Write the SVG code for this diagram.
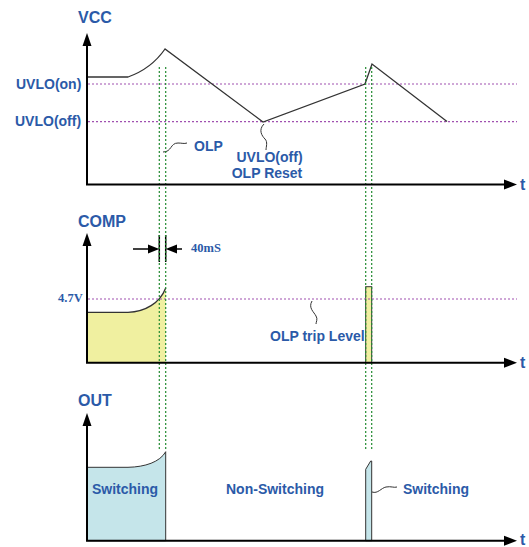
<svg xmlns="http://www.w3.org/2000/svg" width="529" height="547" viewBox="0 0 529 547">
<style>
.lbl{font-family:"Liberation Sans",Arial,sans-serif;font-weight:bold;fill:#2b5aa8}
.big{font-size:16px}
.sm{font-size:14px}
.ser{font-family:"Liberation Serif","Times New Roman",serif;font-weight:bold;fill:#2b5aa8;font-size:12.5px}
.axis{stroke:#000;stroke-width:2;fill:none}
.wave{stroke:#333;stroke-width:1.3;fill:none}
.lvl{stroke:#a050b0;stroke-width:1.2;stroke-dasharray:2 2;fill:none}
.grn{stroke:#228a30;stroke-width:1.2;stroke-dasharray:2 2;fill:none}
.sq{stroke:#333;stroke-width:1;fill:none}
</style>
<rect width="529" height="547" fill="#fff"/>
<g id="vcc">
<text class="lbl big" x="78" y="23">VCC</text>
<text class="lbl sm" x="16" y="89">UVLO(on)</text>
<text class="lbl sm" x="15" y="126">UVLO(off)</text>
<line class="lvl" x1="88" y1="84" x2="517" y2="84"/>
<line class="lvl" x1="88" y1="121.7" x2="517" y2="121.7"/>
<path class="wave" d="M87,77 L128,77 C142,72 156,62 165,49 L263,122 L365,84 L372,64 L447,121.5"/>
<path class="sq" d="M163,152 C172,152 170,143 178,143 C182,143 184,144 187,143"/>
<text class="lbl sm" x="194" y="151">OLP</text>
<path class="sq" d="M264,124 C258,130 262,136 265,139 C268,142 266,147 266,150"/>
<text class="lbl sm" x="269.5" y="162" text-anchor="middle">UVLO(off)</text>
<text class="lbl sm" x="267" y="178" text-anchor="middle">OLP Reset</text>
</g>
<g id="comp">
<text class="lbl big" x="78" y="227">COMP</text>
<text class="ser" x="58" y="302">4.7V</text>
<path d="M87,362.7 L87,312.3 L128,312.3 C145,312 160,303 165.7,288 L165.7,362.7 Z" fill="#f0f0a0"/>
<path class="wave" d="M87,312.3 L128,312.3 C145,312 160,303 165.7,288"/>
<rect x="365.7" y="286.7" width="6" height="76" fill="#f0f0a0" stroke="#333" stroke-width="1"/>
<line class="lvl" x1="88" y1="299" x2="517" y2="299"/>
<path class="sq" d="M312,301 C308,308 314,312 316,316 C318,319 316,322 316,324"/>
<text class="lbl sm" x="270" y="341">OLP trip Level</text>
<line x1="159.3" y1="235" x2="159.3" y2="262" stroke="#000" stroke-width="1.5"/>
<line x1="165.7" y1="235" x2="165.7" y2="262" stroke="#000" stroke-width="1.5"/>
<text class="ser" x="191" y="252">40mS</text>
</g>
<g id="out">
<text class="lbl big" x="78" y="406">OUT</text>
<path d="M87,540.7 L87,467.3 L128,467.3 C145,467 160,462 165.7,451.7 L165.7,540.7 Z" fill="#c5e5ea" stroke="#333" stroke-width="1"/>
<polygon points="365.7,469.3 370.7,461 371.7,461 371.7,540.7 365.7,540.7" fill="#c5e5ea" stroke="#333" stroke-width="1"/>
<text class="lbl sm" x="92" y="494">Switching</text>
<text class="lbl sm" x="226" y="494">Non-Switching</text>
<path class="sq" d="M372,492 C378,494 381,488 386,487 C391,486 394,488 397,487"/>
<text class="lbl sm" x="403" y="494">Switching</text>
</g>
<g id="connectors">
<line class="grn" x1="159.3" y1="67" x2="159.3" y2="450"/>
<line class="grn" x1="165.7" y1="67" x2="165.7" y2="450"/>
<line class="grn" x1="365.7" y1="67" x2="365.7" y2="450"/>
<line class="grn" x1="371.7" y1="67" x2="371.7" y2="450"/>
<path class="axis" d="M87,46 L87,184.5 L504,184.5"/>
<polygon points="87,33 82.5,46 91.5,46"/>
<polygon points="517,184.5 504,179.5 504,189.5"/>
<path class="axis" d="M87,246 L87,362.7 L504,362.7"/>
<polygon points="87,233 82.5,246 91.5,246"/>
<polygon points="517,362.7 504,357.7 504,367.7"/>
<path class="axis" d="M87,426 L87,540.7 L504,540.7"/>
<polygon points="87,413 82.5,426 91.5,426"/>
<polygon points="517,540.7 504,535.7 504,545.7"/>
<line x1="133" y1="249" x2="150" y2="249" stroke="#000" stroke-width="1.5"/>
<polygon points="159.3,249 148,244.5 148,253.5"/>
<line x1="182" y1="249" x2="175" y2="249" stroke="#000" stroke-width="1.5"/>
<polygon points="165.7,249 177,244.5 177,253.5"/>
<text class="lbl big" x="520" y="190">t</text>
<text class="lbl big" x="520" y="368">t</text>
<text class="lbl big" x="520" y="545">t</text>
</g>
</svg>
